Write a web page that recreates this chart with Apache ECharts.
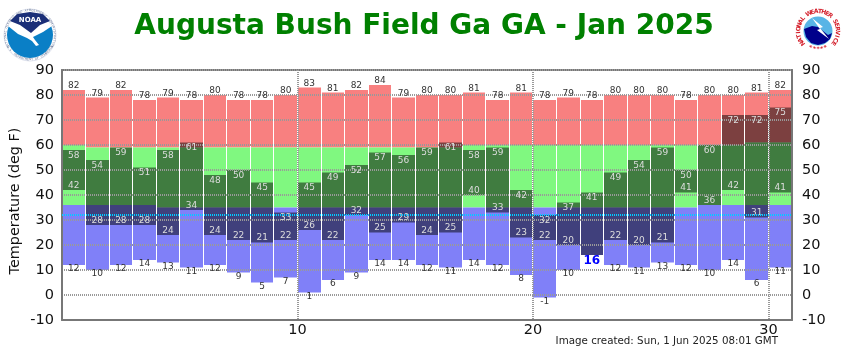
<!DOCTYPE html>
<html>
<head>
<meta charset="utf-8">
<title>Augusta Bush Field Ga GA - Jan 2025</title>
<script src="https://cdn.jsdelivr.net/npm/echarts@6/dist/echarts.min.js"></script>
<style>
    html, body { margin: 0; padding: 0; background: #fff; }
    #chart { width: 850px; height: 350px; }
</style>
</head>
<body>
<div id="chart"></div>
<script>
const days = [1,2,3,4,5,6,7,8,9,10,11,12,13,14,15,16,17,18,19,20,21,22,23,24,25,26,27,28,29,30,31];
const recordHigh = [82,79,82,78,79,78,80,78,78,80,83,81,82,84,79,80,80,81,78,81,78,79,78,80,80,80,78,80,80,81,82];
const normalHigh = [60,59,59,59,59,59,59,59,59,59,59,59,59,59,59,59,59,60,60,60,60,60,60,60,60,60,60,60,60,61,61];
const normalLow = [36,36,36,36,35,35,35,35,35,35,35,35,35,35,35,35,35,35,35,35,35,35,35,35,35,35,35,36,36,36,36];
const recordLow = [12,10,12,14,13,11,12,9,5,7,1,6,9,14,14,12,11,14,12,8,-1,10,16,12,11,13,12,10,14,6,11];
const obsHigh = [58,54,59,51,58,61,48,50,45,33,45,49,52,57,56,59,61,58,59,42,32,37,41,49,54,59,50,60,72,72,75];
const obsLow = [42,28,28,28,24,34,24,22,21,22,26,22,32,25,29,24,25,40,33,23,22,20,16,22,20,21,41,36,42,31,41];
const yTicks = { min: -10, max: 90, interval: 10 };
const freezing = 32;

const FONT = '"DejaVu Sans", Verdana, sans-serif';
const GRID_LINE = { color: '#999', width: 2, type: [1, 1] };

// floating bar from low to high, one day wide
function rangeSeries(name, lows, highs, color, extra) {
    return Object.assign({
        name: name,
        type: 'custom',
        silent: true,
        z: 2,
        data: days.map((d, i) => [d - 1, lows[i], highs[i]]),
        encode: { x: 0, y: [1, 2] },
        renderItem: (params, api) => {
            const a = api.coord([api.value(0), api.value(2)]);
            const b = api.coord([api.value(0) + 1, api.value(1)]);
            // whole pixels so the white gap between days stays clean
            const left = Math.round(a[0] + 0.5);
            const right = Math.round(b[0] - 0.5);
            return {
                type: 'rect',
                shape: { x: left, y: a[1], width: right - left, height: b[1] - a[1] },
                style: { fill: color, stroke: null, lineWidth: 0 }
            };
        }
    }, extra);
}

// number next to a bar end, dy is the pixel offset from the bar end
function labelSeries(name, values, dy, color, hideIf) {
    return {
        name: name,
        type: 'custom',
        silent: true,
        z: 4,
        data: days.map((d, i) => [d - 0.5, values[i]]),
        encode: { x: 0, y: 1 },
        renderItem: (params, api) => {
            const p = api.coord([api.value(0), api.value(1)]);
            const i = params.dataIndex;
            if (hideIf && hideIf(i)) return null;
            const isRecord = name === 'recordLowLabel' && obsLow[i] === recordLow[i];
            return {
                type: 'text',
                x: p[0],
                y: p[1] + (isRecord ? 6 : dy),
                style: {
                    text: String(api.value(1)),
                    fill: isRecord ? '#0000ff' : color,
                    font: isRecord ? 'bold 12px ' + FONT : '9px ' + FONT,
                    align: 'center',
                    verticalAlign: 'middle'
                }
            };
        }
    };
}

// letters placed one by one around a circle, angles clockwise from the top
function ringText(text, cx, cy, r, fromDeg, toDeg, font, fill, flip) {
    const out = [];
    const step = (toDeg - fromDeg) / (text.length - 1);
    for (let i = 0; i < text.length; i++) {
        if (text[i] === ' ') continue;
        const deg = fromDeg + step * i;
        const rad = deg * Math.PI / 180;
        out.push({
            type: 'text',
            x: cx + r * Math.sin(rad),
            y: cy - r * Math.cos(rad),
            rotation: -(deg + (flip ? 180 : 0)) * Math.PI / 180,
            silent: true,
            style: { text: text[i], font: font, fill: fill, align: 'center', verticalAlign: 'middle' }
        });
    }
    return out;
}

const noaaLogo = [
    { type: 'circle', shape: { cx: 30, cy: 35, r: 26 }, style: { fill: '#fff', stroke: '#c8cfe0', lineWidth: 0.6 } },
    { type: 'circle', shape: { cx: 30, cy: 35, r: 23 }, style: { fill: '#0a7fc6' } },
    { type: 'polygon', silent: true, shape: { points: [[8, 26], [18, 34], [27, 38], [32, 41], [36, 46], [39, 45], [35, 40], [33, 37], [43, 32], [52, 26], [42, 13], [30, 11], [17, 13]] }, style: { fill: '#fff' } },
    { type: 'polygon', silent: true, shape: { points: [[10, 21], [17, 14], [30, 12], [43, 14], [50, 21], [40, 25], [31, 33], [20, 25]] }, style: { fill: '#1b2f78' } },
    { type: 'text', x: 30, y: 20, silent: true, style: { text: 'NOAA', font: 'bold 7px ' + FONT, fill: '#fff', align: 'center', verticalAlign: 'middle' } }
].concat(
    ringText('NATIONAL OCEANIC AND ATMOSPHERIC ADMINISTRATION', 30, 35, 24.6, -118, 118, '3px ' + FONT, '#6a7898'),
    ringText('U.S. DEPARTMENT OF COMMERCE', 30, 35, 24.6, 242, 118, '3px ' + FONT, '#6a7898', true)
);

const nwsLogo = [
    { type: 'circle', shape: { cx: 818, cy: 31, r: 14.5 }, style: { fill: '#58b4e6' } },
    { type: 'polygon', silent: true, shape: { points: [[804, 29], [812, 26], [818, 27], [828, 35], [832, 33], [830, 39], [825, 43], [818, 45], [811, 43], [806, 37]] }, style: { fill: '#00008b' } },
    { type: 'polygon', silent: true, shape: { points: [[812, 18], [823, 27], [820, 28], [829, 39], [817, 30], [820, 29]] }, style: { fill: '#fff' } }
].concat(
    ringText('NATIONAL WEATHER SERVICE', 818, 31, 19.5, -128, 128, 'bold 6px ' + FONT, '#d4202c'),
    ringText('*****', 818, 31, 18.5, 205, 155, 'bold 6px ' + FONT, '#d4202c', true)
);

const chart = echarts.init(document.getElementById('chart'));
chart.setOption({
    animation: false,
    backgroundColor: '#fff',
    textStyle: { fontFamily: FONT },
    title: {
        text: 'Augusta Bush Field Ga GA - Jan 2025',
        left: 419,
        top: 8,
        textAlign: 'center',
        textStyle: { color: '#008000', fontSize: 28, fontWeight: 'bold', fontFamily: FONT }
    },
    grid: { left: 62, right: 58, top: 70, bottom: 30, show: false },
    xAxis: [{
        type: 'value',
        min: 0,
        max: 31,
        interval: 10,
        z: 3,
        axisLine: { show: true, onZero: false, lineStyle: { color: '#777', width: 2 } },
        axisTick: { show: false },
        axisLabel: {
            color: '#111',
            fontSize: 14.5,
            margin: 3,
            fontFamily: FONT,
            formatter: v => (v === 0 || v === 31 ? '' : String(v))
        },
        splitLine: { show: true, lineStyle: GRID_LINE }
    }, {
        type: 'value',
        position: 'top',
        min: 0,
        max: 31,
        axisLine: { show: true, onZero: false, lineStyle: { color: '#777', width: 2 } },
        axisTick: { show: false },
        axisLabel: { show: false },
        splitLine: { show: false }
    }],
    yAxis: [{
        type: 'value',
        min: yTicks.min,
        max: yTicks.max,
        interval: yTicks.interval,
        z: 3,
        axisLine: { show: true, onZero: false, lineStyle: { color: '#777', width: 2 } },
        axisTick: { show: false },
        axisLabel: { color: '#111', fontSize: 14.5, margin: 8, fontFamily: FONT },
        splitLine: { show: true, lineStyle: GRID_LINE }
    }, {
        type: 'value',
        position: 'right',
        min: yTicks.min,
        max: yTicks.max,
        interval: yTicks.interval,
        z: 3,
        axisLine: { show: true, onZero: false, lineStyle: { color: '#777', width: 2 } },
        axisTick: { show: false },
        axisLabel: { color: '#111', fontSize: 14.5, margin: 10, fontFamily: FONT },
        splitLine: { show: false }
    }],
    graphic: [
        {
            type: 'text', x: 15, y: 201, rotation: Math.PI / 2, silent: true,
            style: { text: 'Temperature (deg F)', font: '14.4px ' + FONT, fill: '#111', align: 'center', verticalAlign: 'middle' }
        },
        {
            type: 'text', x: 778, y: 341, silent: true,
            style: { text: 'Image created: Sun, 1 Jun 2025 08:01 GMT', font: '10.3px ' + FONT, fill: '#222', align: 'right', verticalAlign: 'middle' }
        }
    ].concat(noaaLogo, nwsLogo),
    series: [
        rangeSeries('aboveNormal', normalHigh, recordHigh, '#f88080'),
        rangeSeries('normal', normalLow, normalHigh, '#80f880'),
        rangeSeries('belowNormal', recordLow, normalLow, '#8080f8'),
        rangeSeries('observed', obsLow, obsHigh, 'rgba(0,0,0,0.5)', {
            markLine: {
                silent: true,
                symbol: 'none',
                label: { show: false },
                lineStyle: { color: '#00ccff', width: 2, type: [1, 1] },
                data: [{ yAxis: freezing }]
            }
        }),
        labelSeries('recordHighLabel', recordHigh, -4, '#333'),
        labelSeries('recordLowLabel', recordLow, 4, '#333'),
        labelSeries('obsHighLabel', obsHigh, 5.5, '#ddd'),
        labelSeries('obsLowLabel', obsLow, -4.5, '#ddd', i => obsLow[i] === recordLow[i])
    ]
});
</script>
</body>
</html>
